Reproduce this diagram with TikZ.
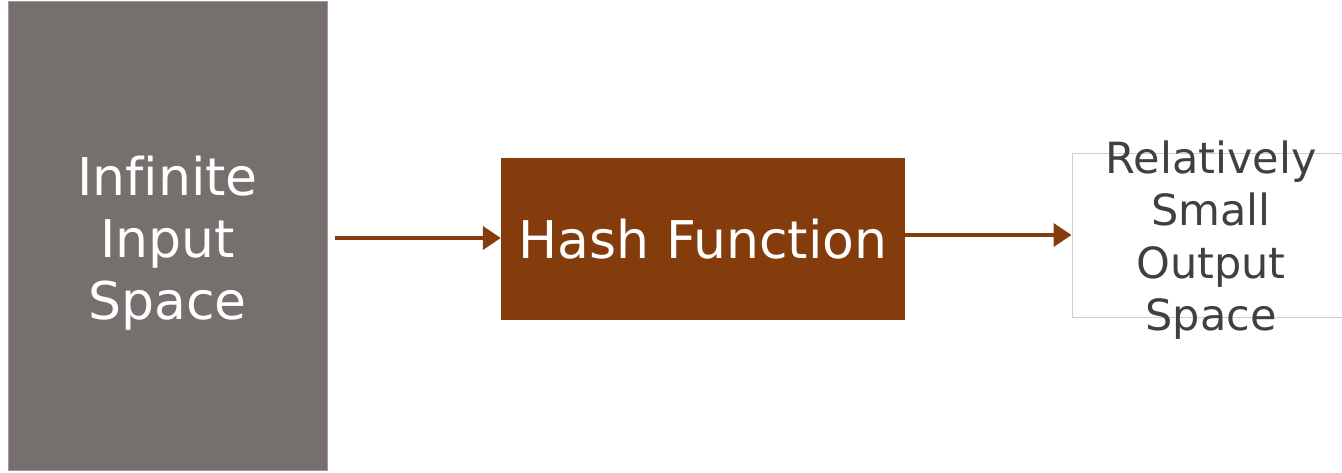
\documentclass[tikz,border=0pt]{standalone}
\usepackage{fontspec}
\setmainfont{DejaVu Sans}[Ligatures=NoCommon]
\usetikzlibrary{arrows.meta}
\definecolor{slate}{HTML}{75706E}
\definecolor{rust}{HTML}{843C0C}
\definecolor{ink}{HTML}{404040}
\definecolor{edge}{HTML}{CFCFCF}
\tikzset{
  inbox/.style={rectangle, fill=slate, draw=slate!70!white, line width=1pt, minimum width=319pt, minimum height=469pt, inner sep=0pt},
  intext/.style={text=white, align=center, font=\fontsize{52}{62}\selectfont},
  hashbox/.style={rectangle, fill=rust, minimum width=404pt, minimum height=162pt, inner sep=0pt, text=white, font=\fontsize{52}{62}\selectfont},
  outbox/.style={rectangle, draw=edge, line width=1pt, minimum width=278pt, minimum height=164pt, inner sep=0pt},
  outtext/.style={text=ink, align=center, font=\fontsize{43}{52.5}\selectfont},
  flow/.style={draw=rust, line width=4pt, -{Triangle[length=18pt,width=23pt]}}
}
\begin{document}
\begin{tikzpicture}[x=1pt,y=-1pt]
\useasboundingbox (0,0) rectangle (1342,472);
\fill[white] (0,0) rectangle (1342,472);
\node[inbox] (in) at (167.5,235.5) {};
\node[intext] (intxt) at (167.5,243) {Infinite\\Input\\Space};
\node[hashbox] (hash) at (703,239) {Hash Function};
\node[outbox] (out) at (1211,235) {};
\node[outtext] (outtxt) at (1211,240) {Relatively\\Small\\Output\\Space};
\coordinate (a0) at (335,238);
\draw[flow] (a0) -- (hash.west |- a0);
\draw[flow] (hash.east |- out.west) -- (out.west);
\end{tikzpicture}
\end{document}
